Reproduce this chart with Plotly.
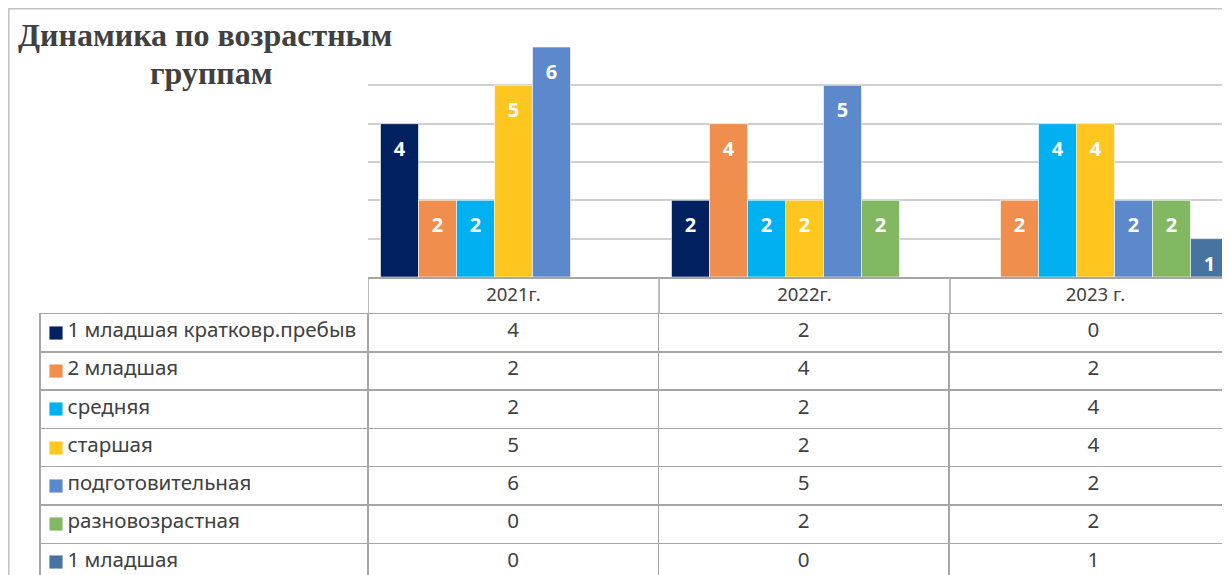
import plotly.graph_objects as go

# ---- data ----
years = ["2021г.", "2022г.", "2023 г."]
groups = [
    "1 младшая кратковр.пребыв",
    "2 младшая",
    "средняя",
    "старшая",
    "подготовительная",
    "разновозрастная",
    "1 младшая",
]
v_1ml_short = [4, 2, 0]
v_2ml = [2, 4, 2]
v_middle = [2, 2, 4]
v_senior = [5, 2, 4]
v_prep = [6, 5, 2]
v_mixed = [0, 2, 2]
v_1ml = [0, 0, 1]
series = [v_1ml_short, v_2ml, v_middle, v_senior, v_prep, v_mixed, v_1ml]
colors = ["#002060", "#EF8E4D", "#00B0F0", "#FFC61F", "#5C88CC", "#83B862", "#46739F"]

title_line1 = "Динамика по возрастным"
title_line2 = "группам"

# ---- layout helpers (screen pixel -> paper); page body has an 8px offset ----
W, H = 1230, 575
OFF = 8
def px(x):
    return (x - OFF) / W
def py(y):
    return 1 - (y - OFF) / H

TXT = "#404040"
GRID = "#d0d0d0"
LINE = "#a6a6a6"
FONT = "Noto Sans"
CAT_PX = 291.0
x_right = -0.5 + (W - (368 - OFF)) / CAT_PX
TBL_TOP = 313.5
ROW_H = 38.3

fig = go.Figure()

for name, vals, col in zip(groups, series, colors):
    fig.add_trace(go.Bar(
        x=years, y=vals, name=name,
        marker=dict(color=col, line=dict(color="rgba(255,255,255,0.6)", width=1)),
        showlegend=False, hoverinfo="skip",
    ))

for name, vals, col in zip(groups, series, colors):
    fig.add_trace(go.Scatter(
        x=years, y=[v - 0.7 for v in vals],
        text=[str(v) if v > 0 else "" for v in vals],
        mode="text", orientation="v",
        textfont=dict(color="white", size=20, family=FONT, weight="bold"),
        showlegend=False, hoverinfo="skip",
    ))

NB = "\u00a0"
col0 = [NB * 3 + "\u2009" + g.replace(" ", NB) for g in groups]
year_cols = [[str(s[j]) for s in series] for j in range(len(years))]
cell_font = dict(family=FONT, size=20.6, color=TXT)

fig.add_trace(go.Table(
    domain=dict(x=[px(40), 1], y=[0, py(TBL_TOP)]),
    columnwidth=[328, 290.5, 290.5, 289],
    header=dict(
        values=[col0[0]] + [c[0] for c in year_cols],
        align=["left", "center", "center", "center"],
        height=ROW_H,
        line=dict(color=LINE, width=1.5),
        fill=dict(color="white"),
        font=cell_font,
    ),
    cells=dict(
        values=[col0[1:]] + [c[1:] for c in year_cols],
        align=["left", "center", "center", "center"],
        height=ROW_H,
        line=dict(color=LINE, width=1.5),
        fill=dict(color="white"),
        font=cell_font,
    ),
))

# invisible anchor trace for the hidden axis pair over the table's label column
fig.add_trace(go.Scatter(
    x=[0] * len(groups), y=groups, mode="markers", marker=dict(opacity=0),
    xaxis="x2", yaxis="y2", showlegend=False, hoverinfo="skip",
))
# legend keys drawn as small coloured boxes
key_annotations = [
    dict(text=NB, xref="x2", yref="y2", x=0, y=g, xanchor="center", yanchor="middle",
         showarrow=False, width=12.5, height=12.5, bgcolor=c, borderpad=0,
         bordercolor="rgba(255,255,255,0.5)", borderwidth=0.5,
         font=dict(size=6, color=c))
    for g, c in zip(groups, colors)
]

shapes = [
    dict(type="path", xref="paper", yref="paper",
         path=f"M {px(8.3)},{py(600)} L {px(8.3)},{py(8.3)} L {px(1260)},{py(8.3)}",
         line=dict(color="#c4c4c4", width=2.5)),
]
for b in [-0.5, 0.5, 1.5]:
    shapes.append(dict(type="line", xref="x", yref="paper", x0=b, x1=b,
                       y0=py(277), y1=py(TBL_TOP), line=dict(color=LINE, width=1.5)))

tbl_h = (575 + OFF) - TBL_TOP
fig.update_layout(
    width=W, height=H,
    margin=dict(l=0, r=0, t=0, b=0),
    paper_bgcolor="white", plot_bgcolor="white",
    barmode="group", bargap=0.086, bargroupgap=0,
    scattermode="group", scattergap=0.086,
    xaxis=dict(domain=[px(368), 1], range=[-0.5, x_right], type="category",
               showline=True, linecolor=LINE, linewidth=2, ticks="",
               tickfont=dict(family=FONT, size=18.5, color=TXT),
               showgrid=False, fixedrange=True),
    yaxis=dict(domain=[py(277), py(47)], range=[0, 6], dtick=1,
               showticklabels=False, gridcolor=GRID, gridwidth=1.5,
               zeroline=False, fixedrange=True),
    xaxis2=dict(domain=[px(40), px(368)], range=[-15.5 / 328, 1 - 15.5 / 328],
                visible=False, fixedrange=True),
    yaxis2=dict(domain=[0, py(TBL_TOP)], type="category", categoryorder="array",
                categoryarray=groups,
                range=[-0.5 + tbl_h / ROW_H, -0.5],
                visible=False, fixedrange=True, anchor="x2"),
    shapes=shapes,
    annotations=[
        dict(text=title_line1, xref="paper", yref="paper",
             x=px(205), y=py(35), xanchor="center", yanchor="middle",
             showarrow=False,
             font=dict(family="Liberation Serif", size=32, color=TXT, weight="bold")),
        dict(text=title_line2, xref="paper", yref="paper",
             x=px(211), y=py(73), xanchor="center", yanchor="middle",
             showarrow=False,
             font=dict(family="Liberation Serif", size=32, color=TXT, weight="bold")),
    ] + key_annotations,
)

fig.write_html("out.html")
